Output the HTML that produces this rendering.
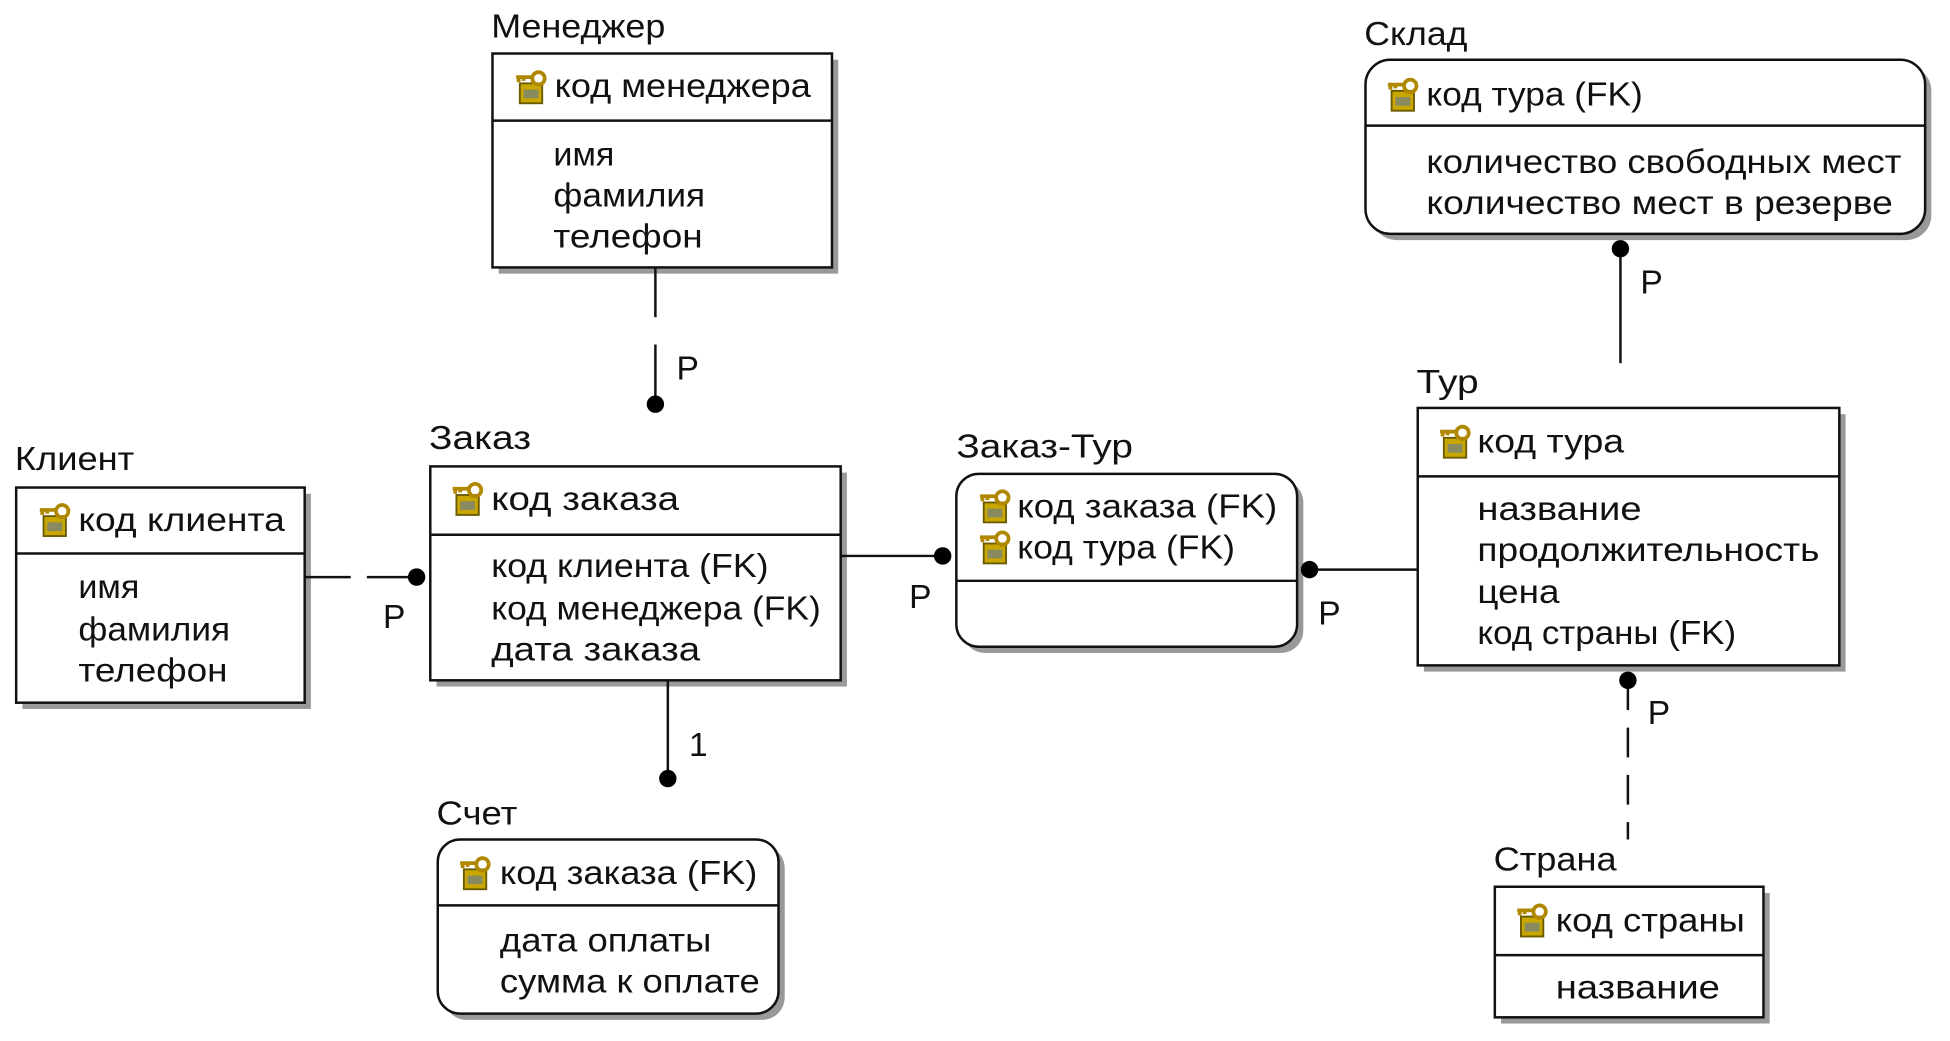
<!DOCTYPE html>
<html><head><meta charset="utf-8"><style>
html,body{margin:0;padding:0;background:#fff;}
svg{display:block;}
text{font-family:"Liberation Sans","DejaVu Sans",sans-serif;font-size:27px;fill:#111;}
</style></head><body>
<svg width="1950" height="1041" viewBox="0 0 1568 837" xmlns="http://www.w3.org/2000/svg">
<defs>
<g id="key">
<rect x="3" y="10" width="18" height="16" fill="#c8a800" stroke="#6b5a00" stroke-width="1.5"/>
<rect x="6" y="15" width="12" height="7" fill="#8a8a60"/>
<circle cx="18" cy="6" r="5" fill="none" stroke="#b08800" stroke-width="3"/>
<path d="M0 5 H13 M2 5 V9 M6 5 V8" stroke="#b08800" stroke-width="3" fill="none"/>
</g>
</defs>
<g stroke="#111" stroke-width="2" fill="#fff">
<g fill="#999" stroke="none">
<rect x="401" y="48" width="273" height="172"/>
<rect x="18" y="397" width="232" height="173"/>
<rect x="351" y="380" width="330" height="172"/>
<rect x="357" y="680" width="274" height="140" rx="18"/>
<rect x="774" y="386" width="274" height="139" rx="18"/>
<rect x="1145" y="333" width="339" height="207"/>
<rect x="1103" y="53" width="450" height="140" rx="20"/>
<rect x="1207" y="718" width="216" height="105"/>
</g>
<rect x="396" y="43" width="273" height="172"/><line x1="396" y1="97" x2="669" y2="97"/>
<rect x="13" y="392" width="232" height="173"/><line x1="13" y1="445" x2="245" y2="445"/>
<rect x="346" y="375" width="330" height="172"/><line x1="346" y1="430" x2="676" y2="430"/>
<rect x="352" y="675" width="274" height="140" rx="18"/><line x1="352" y1="728" x2="626" y2="728"/>
<rect x="769" y="381" width="274" height="139" rx="18"/><line x1="769" y1="467" x2="1043" y2="467"/>
<rect x="1140" y="328" width="339" height="207"/><line x1="1140" y1="383" x2="1479" y2="383"/>
<rect x="1098" y="48" width="450" height="140" rx="20"/><line x1="1098" y1="101" x2="1548" y2="101"/>
<rect x="1202" y="713" width="216" height="105"/><line x1="1202" y1="768" x2="1418" y2="768"/>
<line x1="527" y1="215" x2="527" y2="255"/><line x1="527" y1="277" x2="527" y2="320"/>
<line x1="245" y1="464" x2="282" y2="464"/><line x1="295" y1="464" x2="335" y2="464"/>
<line x1="537" y1="547" x2="537" y2="625"/>
<line x1="676" y1="447" x2="758" y2="447"/>
<line x1="1053" y1="458" x2="1140" y2="458"/>
<line x1="1303" y1="205" x2="1303" y2="292"/>
<line x1="1309" y1="547" x2="1309" y2="675" stroke-dasharray="24 14"/>
</g>
<g fill="#000">
<circle cx="527" cy="325" r="7"/><circle cx="335" cy="464" r="7"/><circle cx="537" cy="626" r="7"/>
<circle cx="758" cy="447" r="7"/><circle cx="1053" cy="458" r="7"/><circle cx="1303" cy="200" r="7"/><circle cx="1309" cy="547" r="7"/>
</g>
<text x="544" y="305">P</text><text x="308" y="505">P</text><text x="554" y="608">1</text>
<text x="731" y="489">P</text><text x="1060" y="502">P</text><text x="1319" y="236">P</text><text x="1325" y="582">P</text>
<text x="395" y="30" textLength="140" lengthAdjust="spacingAndGlyphs">Менеджер</text>
<text x="12" y="378" textLength="96" lengthAdjust="spacingAndGlyphs">Клиент</text>
<text x="345" y="361" textLength="82" lengthAdjust="spacingAndGlyphs">Заказ</text>
<text x="351" y="663" textLength="65" lengthAdjust="spacingAndGlyphs">Счет</text>
<text x="769" y="368" textLength="142" lengthAdjust="spacingAndGlyphs">Заказ-Тур</text>
<text x="1139" y="316" textLength="50" lengthAdjust="spacingAndGlyphs">Тур</text>
<text x="1097" y="36" textLength="83" lengthAdjust="spacingAndGlyphs">Склад</text>
<text x="1201" y="700" textLength="99" lengthAdjust="spacingAndGlyphs">Страна</text>
<use href="#key" x="415" y="57"/><use href="#key" x="32" y="405"/><use href="#key" x="364" y="388"/>
<use href="#key" x="370" y="689"/><use href="#key" x="788" y="394"/><use href="#key" x="788" y="427"/>
<use href="#key" x="1158" y="342"/><use href="#key" x="1116" y="63"/><use href="#key" x="1220" y="727"/>
<text x="446" y="78" textLength="206" lengthAdjust="spacingAndGlyphs">код менеджера</text>
<text x="445" y="133" textLength="49" lengthAdjust="spacingAndGlyphs">имя</text>
<text x="445" y="166" textLength="122" lengthAdjust="spacingAndGlyphs">фамилия</text>
<text x="445" y="199" textLength="120" lengthAdjust="spacingAndGlyphs">телефон</text>
<text x="63" y="427" textLength="166" lengthAdjust="spacingAndGlyphs">код клиента</text>
<text x="63" y="481" textLength="49" lengthAdjust="spacingAndGlyphs">имя</text>
<text x="63" y="515" textLength="122" lengthAdjust="spacingAndGlyphs">фамилия</text>
<text x="63" y="548" textLength="120" lengthAdjust="spacingAndGlyphs">телефон</text>
<text x="395" y="410" textLength="151" lengthAdjust="spacingAndGlyphs">код заказа</text>
<text x="395" y="464" textLength="223" lengthAdjust="spacingAndGlyphs">код клиента (FK)</text>
<text x="395" y="498" textLength="265" lengthAdjust="spacingAndGlyphs">код менеджера (FK)</text>
<text x="395" y="531" textLength="168" lengthAdjust="spacingAndGlyphs">дата заказа</text>
<text x="402" y="711" textLength="207" lengthAdjust="spacingAndGlyphs">код заказа (FK)</text>
<text x="402" y="765" textLength="170" lengthAdjust="spacingAndGlyphs">дата оплаты</text>
<text x="402" y="798" textLength="209" lengthAdjust="spacingAndGlyphs">сумма к оплате</text>
<text x="818" y="416" textLength="209" lengthAdjust="spacingAndGlyphs">код заказа (FK)</text>
<text x="818" y="449" textLength="175" lengthAdjust="spacingAndGlyphs">код тура (FK)</text>
<text x="1188" y="364" textLength="118" lengthAdjust="spacingAndGlyphs">код тура</text>
<text x="1188" y="418" textLength="132" lengthAdjust="spacingAndGlyphs">название</text>
<text x="1188" y="451" textLength="275" lengthAdjust="spacingAndGlyphs">продолжительность</text>
<text x="1188" y="485" textLength="66" lengthAdjust="spacingAndGlyphs">цена</text>
<text x="1188" y="518" textLength="208" lengthAdjust="spacingAndGlyphs">код страны (FK)</text>
<text x="1147" y="85" textLength="174" lengthAdjust="spacingAndGlyphs">код тура (FK)</text>
<text x="1147" y="139" textLength="382" lengthAdjust="spacingAndGlyphs">количество свободных мест</text>
<text x="1147" y="172" textLength="375" lengthAdjust="spacingAndGlyphs">количество мест в резерве</text>
<text x="1251" y="749" textLength="152" lengthAdjust="spacingAndGlyphs">код страны</text>
<text x="1251" y="803" textLength="132" lengthAdjust="spacingAndGlyphs">название</text>
</svg>
</body></html>
